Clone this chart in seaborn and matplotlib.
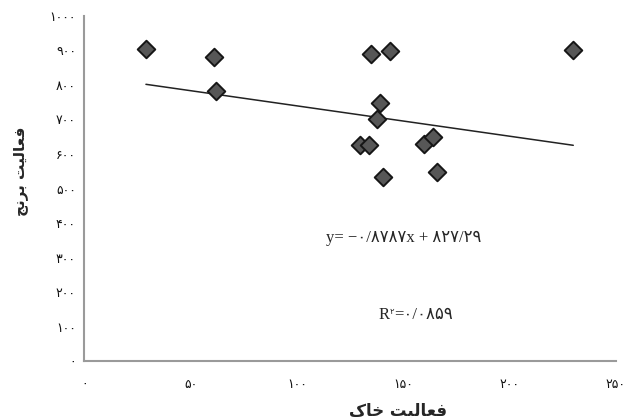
import numpy as np
import matplotlib
matplotlib.use("Agg")
import matplotlib.pyplot as plt
import seaborn as sns

# داده‌ها (خوانده شده از نمودار)
soil_activity = [29, 61, 62, 129.5, 134, 135, 137.5, 139, 140.5, 144, 160, 164, 166, 230]
rice_activity = [905, 880, 783, 627, 627, 889, 702, 749, 533, 899, 628, 650, 548, 901]

# معادله خط رگرسیون
slope = -0.8787
intercept = 827.29
r_squared = 0.0859

x_ticks = [0, 50, 100, 150, 200, 250]
y_ticks = [0, 100, 200, 300, 400, 500, 600, 700, 800, 900, 1000]

x_label = 'فعالیت خاک'
y_label = 'فعالیت برنج'

# ارقام فارسی، ممیز به شکل /
fa_digits = str.maketrans('0123456789.', '۰۱۲۳۴۵۶۷۸۹/')


def fa(value):
    return str(value).translate(fa_digits)


# شکل‌دهی حروف عربی/فارسی (matplotlib خودش این کار را نمی‌کند)
forms = {
    'ف': ('\uFED1', '\uFED2', '\uFED3', '\uFED4'),
    'ع': ('\uFEC9', '\uFECA', '\uFECB', '\uFECC'),
    'ا': ('\uFE8D', '\uFE8E', None, None),
    'ل': ('\uFEDD', '\uFEDE', '\uFEDF', '\uFEE0'),
    'ی': ('\uFBFC', '\uFBFD', '\uFBFE', '\uFBFF'),
    'ت': ('\uFE95', '\uFE96', '\uFE97', '\uFE98'),
    'ب': ('\uFE8F', '\uFE90', '\uFE91', '\uFE92'),
    'ر': ('\uFEAD', '\uFEAE', None, None),
    'ن': ('\uFEE5', '\uFEE6', '\uFEE7', '\uFEE8'),
    'ج': ('\uFE9D', '\uFE9E', '\uFE9F', '\uFEA0'),
    'خ': ('\uFEA5', '\uFEA6', '\uFEA7', '\uFEA8'),
    'ک': ('\uFB8E', '\uFB8F', '\uFB90', '\uFB91'),
}


def shape(text):
    out = []
    for word in text.split(' '):
        letters = []
        for i, ch in enumerate(word):
            f = forms[ch]
            prev_joins = i > 0 and forms[word[i - 1]][2] is not None
            next_joins = f[2] is not None and i < len(word) - 1
            if prev_joins and next_joins:
                letters.append(f[3])
            elif prev_joins:
                letters.append(f[1])
            elif next_joins:
                letters.append(f[2])
            else:
                letters.append(f[0])
        out.append(''.join(letters))
    return ' '.join(out)[::-1]


sns.set_style('white')
serif = ['Liberation Serif', 'DejaVu Sans']

fig = plt.figure(figsize=(6.29, 4.18), dpi=100)
ax = fig.add_axes([0.134, 0.136, 0.845, 0.826])

sns.scatterplot(x=soil_activity, y=rice_activity, marker='D', s=80,
                color='#575757', edgecolor='#161616', linewidth=1.4,
                ax=ax, zorder=3)

x_fit = np.array([min(soil_activity), max(soil_activity)])
sns.lineplot(x=x_fit, y=slope * x_fit + intercept, color='#222222',
             linewidth=1.1, ax=ax, zorder=2)

ax.set_xlim(0, 250)
ax.set_ylim(0, 1000)
ax.set_xticks(x_ticks)
ax.set_xticklabels([fa(t) for t in x_ticks])
ax.set_yticks(y_ticks)
ax.set_yticklabels([fa(t) for t in y_ticks])

for side in ['top', 'right']:
    ax.spines[side].set_visible(False)
for side in ['left', 'bottom']:
    ax.spines[side].set_color('#9a9a9a')
    ax.spines[side].set_linewidth(1.5)

ax.tick_params(axis='y', direction='out', length=3, width=1, color='#9a9a9a',
               pad=3, labelsize=9, labelcolor='#111111')
ax.tick_params(axis='x', direction='in', length=4, width=1, color='#9a9a9a',
               pad=12, labelsize=9, labelcolor='#111111')

ax.set_xlabel(shape(x_label), fontsize=12, fontweight='bold')
ax.xaxis.set_label_coords(0.59, -0.117)
ax.set_ylabel(shape(y_label), fontsize=11, fontweight='bold')
ax.yaxis.set_label_coords(-0.105, 0.55)

eq = 'y= \u2212' + fa(abs(slope)) + 'x + ' + fa(intercept)
ax.text(113.8, 357, eq, va='center', ha='left', fontsize=12, family=serif)

r_txt = ax.text(138.4, 135, 'R', va='center', ha='left', fontsize=12, family=serif)
sup = ax.annotate(fa(2), xy=(1, 1), xycoords=r_txt, va='top', ha='left', fontsize=6)
ax.annotate('=' + fa(r_squared), xy=(1, 0), xycoords=(sup, r_txt), va='bottom',
            ha='left', fontsize=12, family=serif)

fig.savefig('out.png', dpi=100)
